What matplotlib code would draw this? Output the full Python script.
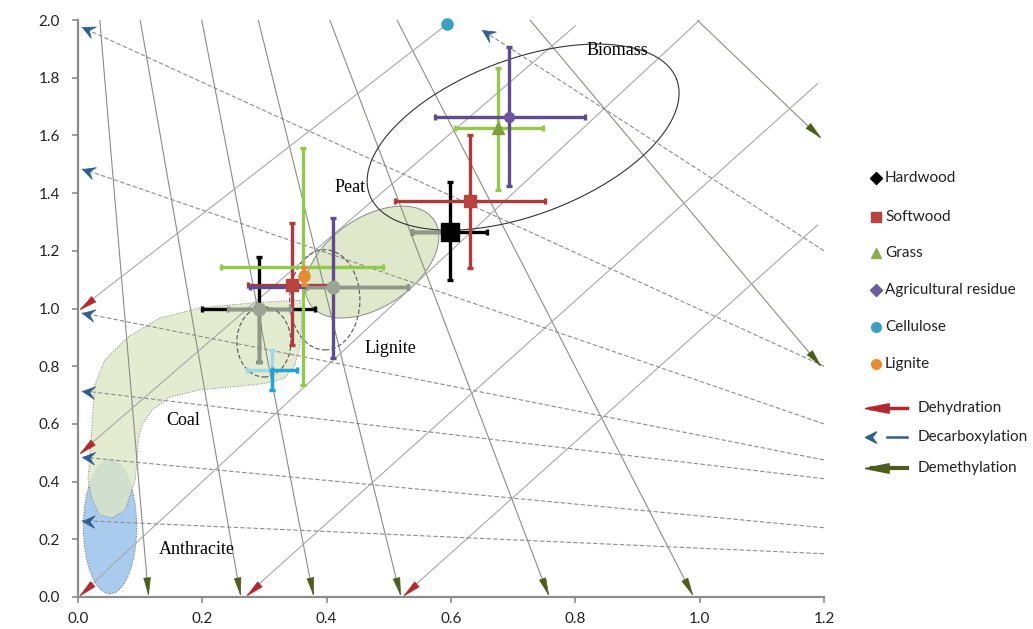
import numpy as np
import matplotlib
matplotlib.use('Agg')
import matplotlib.pyplot as plt
from matplotlib.patches import Ellipse, Polygon
from matplotlib.markers import MarkerStyle
from matplotlib.path import Path
from matplotlib.transforms import Affine2D

# --- reaction lines (start -> end, arrow head at the end) ---
demeth_x0 = [0.035, 0.100, 0.199, 0.290, 0.405, 0.513, 0.727, 0.996]
demeth_y0 = [2.00, 2.00, 2.00, 2.00, 2.00, 2.00, 2.00, 2.00]
demeth_x1 = [0.113, 0.261, 0.378, 0.518, 0.756, 0.988, 1.193, 1.193]
demeth_y1 = [0.01, 0.01, 0.01, 0.01, 0.01, 0.01, 0.804, 1.594]

dehyd_x0 = [1.000, 0.800, 0.594, 1.190, 1.190]
dehyd_y0 = [2.000, 1.980, 1.986, 1.780, 1.290]
dehyd_x1 = [0.004, 0.004, 0.004, 0.272, 0.525]
dehyd_y1 = [0.008, 0.500, 1.000, 0.008, 0.008]

decarb_x0 = [1.20, 1.20, 1.20, 1.20, 1.20, 1.20, 1.20]
decarb_y0 = [0.80, 0.60, 0.475, 0.41, 0.24, 0.15, 1.20]
decarb_x1 = [0.006, 0.006, 0.006, 0.006, 0.006, 0.006, 0.650]
decarb_y1 = [1.975, 1.485, 0.985, 0.715, 0.485, 0.265, 1.965]

# --- feedstock points: O/C, H/C, errors ---
hard_x = [0.598, 0.291]
hard_y = [1.265, 0.998]
hard_xerr = [[0.061, 0.092], [0.060, 0.090]]
hard_yerr = [[0.166, 0.183], [0.173, 0.180]]

soft_x = [0.630, 0.344]
soft_y = [1.372, 1.081]
soft_xerr = [[0.120, 0.071], [0.121, 0.071]]
soft_yerr = [[0.232, 0.208], [0.229, 0.215]]

grass_x = [0.676, 0.362]
grass_y = [1.626, 1.144]
grass_xerr = [[0.070, 0.132], [0.072, 0.129]]
grass_yerr = [[0.215, 0.409], [0.208, 0.412]]

agri_x = [0.693, 0.410]
agri_y = [1.664, 1.075]
agri_xerr = [[0.119, 0.133], [0.123, 0.121]]
agri_yerr = [[0.239, 0.247], [0.242, 0.239]]

cell_x = [0.594]
cell_y = [1.986]

lig_x = [0.364]
lig_y = [1.113]
lig_yerr = [0.03]

# grey overlay bars
grey_x = [0.598, 0.291, 0.410]
grey_y = [1.265, 0.998, 1.075]
grey_xerr = [[0.061, 0.050, 0.042], [0.0, 0.050, 0.121]]
grey_yerr = [[0.0, 0.183, 0.0], [0.0, 0.0, 0.0]]

cyan_x = [0.312]
cyan_y = [0.787]
cyan_xerr = [0.040]
cyan_yerr = [0.069]

# --- regions ---
coal_x = [0.357, 0.277, 0.196, 0.132, 0.080, 0.043, 0.027, 0.023, 0.019, 0.016,
          0.023, 0.035, 0.055, 0.076, 0.084, 0.092, 0.095, 0.097, 0.103, 0.119,
          0.148, 0.196, 0.261, 0.306, 0.333, 0.349, 0.357, 0.360]
coal_y = [1.029, 1.019, 1.002, 0.967, 0.901, 0.821, 0.735, 0.614, 0.475, 0.406,
          0.336, 0.284, 0.274, 0.302, 0.354, 0.406, 0.475, 0.544, 0.596, 0.648,
          0.693, 0.718, 0.731, 0.742, 0.759, 0.804, 0.873, 0.960]

biomass_c = (0.716, 1.594)
biomass_u = (0.247, 0.200)
biomass_v = (0.044, -0.253)
peat_c = (0.473, 1.161)
peat_u = (0.0997, 0.1456)
peat_v = (0.040, -0.128)

region_labels = ['Biomass', 'Peat', 'Lignite', 'Coal', 'Anthracite']
region_lx = [0.867, 0.437, 0.502, 0.169, 0.191]
region_ly = [1.896, 1.418, 0.863, 0.613, 0.166]

fig = plt.figure(figsize=(10.33, 6.29), dpi=100)
ax = fig.add_axes([78 / 1033, 1 - 597 / 629, 746 / 1033, 577 / 629])
ax.set_xlim(0, 1.2)
ax.set_ylim(0, 2.0)

tri_head = Path([(0, 0), (-1, 0.2), (-1, -0.2), (0, 0)])
stealth_head = Path([(0, 0), (-1, 0.5), (-0.6, 0), (-1, -0.5), (0, 0)])


def draw_reaction(x0, y0, x1, y1, ls, lcol, head, hcol, hsize):
    for a, b, c, d in zip(x0, y0, x1, y1):
        ax.plot([a, c], [b, d], ls=ls, color=lcol, lw=0.8, zorder=2)
        p0 = ax.transData.transform((a, b))
        p1 = ax.transData.transform((c, d))
        ang = np.degrees(np.arctan2(p1[1] - p0[1], p1[0] - p0[0]))
        m = MarkerStyle(head, transform=Affine2D().rotate_deg(ang))
        ax.plot(c, d, marker=m, ms=hsize, color=hcol, mec=hcol, mew=0.5,
                zorder=6, clip_on=False)


# regions
anth = Ellipse((0.0515, 0.243), 0.086, 0.464, facecolor='#a9ccee',
               edgecolor='#6a6a6a', lw=0.7, ls=':', zorder=1)
ax.add_patch(anth)
ax.add_patch(Polygon(np.column_stack([coal_x, coal_y]), closed=True,
                     facecolor='#dce6c6', edgecolor='#666666', lw=0.7, ls=':',
                     alpha=0.8, zorder=1.1))

t = np.linspace(0, 2 * np.pi, 300)
ex = peat_c[0] + peat_u[0] * np.cos(t) + peat_v[0] * np.sin(t)
ey = peat_c[1] + peat_u[1] * np.cos(t) + peat_v[1] * np.sin(t)
ax.fill(ex, ey, facecolor='#dfe8ca', edgecolor='#8a8a8a', lw=0.7, zorder=1.2)

bx = biomass_c[0] + biomass_u[0] * np.cos(t) + biomass_v[0] * np.sin(t)
by = biomass_c[1] + biomass_u[1] * np.cos(t) + biomass_v[1] * np.sin(t)
ax.plot(bx, by, color='#333333', lw=0.8, zorder=3)

ax.add_patch(Ellipse((0.397, 1.03), 0.113, 0.347, fill=False, edgecolor='#555555',
                     lw=0.8, ls=(0, (4, 2)), zorder=3))
ax.add_patch(Ellipse((0.299, 0.884), 0.087, 0.243, fill=False, edgecolor='#555555',
                     lw=0.8, ls=(0, (4, 2)), zorder=3))

draw_reaction(demeth_x0, demeth_y0, demeth_x1, demeth_y1, '-', '#8c8c82',
              tri_head, '#4d5e1c', 24)
draw_reaction(dehyd_x0, dehyd_y0, dehyd_x1, dehyd_y1, '-', '#a8a8a8',
              tri_head, '#b2282c', 24)
draw_reaction(decarb_x0, decarb_y0, decarb_x1, decarb_y1, (0, (4, 2)), '#8c8c8c',
              stealth_head, '#2e5f8e', 18)

for lab, lx, ly in zip(region_labels, region_lx, region_ly):
    ax.text(lx, ly, lab, family='Liberation Serif', fontsize=13, ha='center',
            va='center', zorder=7)

# error bars
eb = dict(fmt='none', elinewidth=2.4, capsize=2.5, capthick=2.4, zorder=4)
ax.errorbar(hard_x, hard_y, xerr=hard_xerr, yerr=hard_yerr, ecolor='black', **eb)
ax.errorbar(soft_x, soft_y, xerr=soft_xerr, yerr=soft_yerr, ecolor='#b0393a', **eb)
ax.errorbar(grass_x, grass_y, xerr=grass_xerr, yerr=grass_yerr, ecolor='#92c94a', **eb)
ax.errorbar(agri_x, agri_y, xerr=agri_xerr, yerr=agri_yerr, ecolor='#5e4c8e', **eb)
ax.errorbar(grey_x, grey_y, xerr=grey_xerr, yerr=grey_yerr, ecolor='#8f9886', **eb)
ax.errorbar(cyan_x, cyan_y, xerr=cyan_xerr, yerr=cyan_yerr, ecolor='#9fd9e8', **eb)
ax.errorbar(cyan_x, cyan_y, xerr=[[0], cyan_xerr], yerr=[cyan_yerr, [0]],
            ecolor='#1ea4d8', **eb)
ax.errorbar(lig_x, lig_y, yerr=lig_yerr, ecolor='#e98b34', **eb)

ax.plot(hard_x[:1], hard_y[:1], 's', color='black', ms=13, zorder=5)
ax.plot(grey_x[1:], grey_y[1:], 'o', color='#9ca593', ms=9, zorder=5)
ax.plot(soft_x, soft_y, 's', color='#b9433c', ms=9, zorder=5)
ax.plot(grass_x[:1], grass_y[:1], '^', color='#7f9f3c', ms=8, zorder=5)
ax.plot(agri_x[:1], agri_y[:1], 'o', color='#6a559e', ms=7, zorder=5)
ax.plot(cell_x, cell_y, 'o', color='#3aa0c4', ms=8, zorder=5, clip_on=False)
ax.plot(lig_x, lig_y, 'o', color='#ea8a30', ms=8, zorder=5)

# axes styling
ax.set_xticks(np.arange(0, 1.21, 0.2))
ax.set_yticks(np.arange(0, 2.01, 0.2))
ax.set_xticklabels([f'{v:.1f}' for v in np.arange(0, 1.21, 0.2)])
ax.set_yticklabels([f'{v:.1f}' for v in np.arange(0, 2.01, 0.2)])
for s in ['top', 'right']:
    ax.spines[s].set_visible(False)
for s in ['left', 'bottom']:
    ax.spines[s].set_color('#8c8c8c')
    ax.spines[s].set_linewidth(1.6)
ax.tick_params(direction='out', length=4, width=1.2, color='#8c8c8c',
               labelsize=11, labelcolor='#222222')
ax.tick_params(axis='y', pad=9)
ax.tick_params(axis='x', pad=7)
for lbl in ax.get_xticklabels() + ax.get_yticklabels():
    lbl.set_family('Lato')

# legend drawn by hand on the right
lax = fig.add_axes([0, 0, 1, 1], facecolor='none')
lax.set_xlim(0, 1033)
lax.set_ylim(629, 0)
lax.axis('off')

leg_names = ['Hardwood', 'Softwood', 'Grass', 'Agricultural residue', 'Cellulose', 'Lignite']
leg_marks = ['D', 's', '^', 'D', 'o', 'o']
leg_cols = ['black', '#b9433c', '#8aae4a', '#6a5a9e', '#3aa0c4', '#ea8a30']
leg_y = [178, 217, 253, 290, 327, 364]
for n, mk, c, y in zip(leg_names, leg_marks, leg_cols, leg_y):
    lax.plot(876, y, mk, color=c, ms=7 if mk != 'D' else 6)
    lax.text(885, y, n, family='Lato', fontsize=11, va='center', color='#222222')

rx_names = ['Dehydration', 'Decarboxylation', 'Demethylation']
rx_y = [408, 437, 468]
rx_cols = ['#b2282c', '#2e5f8e', '#4d5e1c']
lax.plot(865, rx_y[0], marker=MarkerStyle(tri_head, transform=Affine2D().rotate_deg(180)),
         ms=34, color=rx_cols[0])
lax.plot([870, 883], [rx_y[0]] * 2, color=rx_cols[0], lw=2.5)
lax.plot([890, 907], [rx_y[0]] * 2, color=rx_cols[0], lw=2.5)
lax.plot(865, rx_y[1], marker=MarkerStyle(stealth_head, transform=Affine2D().rotate_deg(180)),
         ms=16, color=rx_cols[1])
lax.plot([887, 907], [rx_y[1]] * 2, color=rx_cols[1], lw=1.8)
lax.plot(865, rx_y[2], marker=MarkerStyle(tri_head, transform=Affine2D().rotate_deg(180)),
         ms=34, color=rx_cols[2])
lax.plot([872, 907], [rx_y[2]] * 2, color=rx_cols[2], lw=3)
for n, y in zip(rx_names, rx_y):
    lax.text(918, y, n, family='Lato', fontsize=11, va='center', color='#222222')

fig.savefig('out.png', dpi=100)
